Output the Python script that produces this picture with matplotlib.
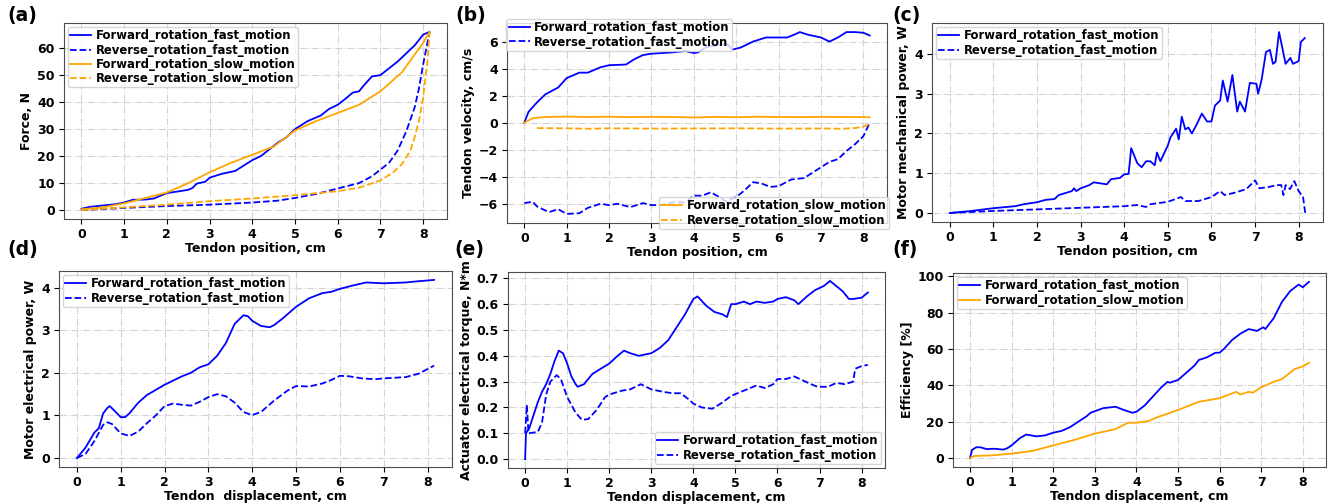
import numpy as np
import matplotlib
matplotlib.use("Agg")
import matplotlib.pyplot as plt

# ---------------- data ----------------
# (a) force vs tendon position
a_ff_x = [0, 0.2, 0.5, 0.8, 1.0, 1.2, 1.5, 1.7, 1.8, 2.0, 2.3, 2.5, 2.6, 2.7, 2.9, 3.0, 3.3, 3.6, 3.8, 4.0,
          4.2, 4.4, 4.6, 4.8, 5.0, 5.3, 5.6, 5.8, 6.0, 6.2, 6.35, 6.5, 6.6, 6.8, 7.0, 7.2, 7.4, 7.6, 7.8, 8.0, 8.15]
a_ff_y = [0.5, 1.2, 1.7, 2.2, 2.8, 3.8, 3.9, 4.3, 5.0, 6.3, 7.0, 7.5, 8.2, 9.8, 10.5, 12.0, 13.5, 14.5, 16.5, 18.5,
          20.0, 22.5, 25.0, 27.0, 30.0, 33.0, 35.0, 37.5, 39.0, 41.5, 43.5, 44.0, 46.0, 49.5, 50.0, 52.5, 55.0, 58.0,
          61.0, 65.0, 66.0]
a_rf_x = [0, 1, 2, 3, 4, 4.6, 5.0, 5.5, 6.0, 6.5, 6.8, 7.0, 7.2, 7.4, 7.6, 7.8, 7.9, 8.0, 8.1, 8.15]
a_rf_y = [0, 0.8, 1.5, 2.0, 2.8, 3.5, 4.5, 6.0, 8.0, 10.0, 12.5, 15.0, 17.5, 22.0, 29.0, 38.0, 45.0, 54.0, 62.0, 66.0]
a_fs_x = [0, 0.5, 1.0, 1.5, 2.0, 2.5, 3.0, 3.5, 4.0, 4.5, 5.0, 5.5, 6.0, 6.5, 7.0, 7.5, 8.0, 8.15]
a_fs_y = [0.3, 1.0, 2.5, 4.5, 6.5, 10.0, 14.0, 17.5, 20.5, 23.5, 29.5, 33.0, 36.0, 39.0, 44.0, 51.0, 62.0, 66.0]
a_rs_x = [0, 0.5, 1, 2, 3, 4, 5, 6, 6.5, 7.0, 7.3, 7.5, 7.7, 7.8, 7.9, 8.0, 8.1, 8.15]
a_rs_y = [0, 0.5, 1.0, 2.0, 3.3, 4.3, 5.5, 7.0, 8.3, 11.0, 14.0, 17.0, 22.0, 27.0, 33.0, 42.0, 55.0, 66.0]

# (b) tendon velocity
b_ff_x = [0, 0.1, 0.3, 0.5, 0.8, 1.0, 1.3, 1.5, 1.8, 2.0, 2.4, 2.6, 2.8, 3.0, 3.5, 3.8, 4.0, 4.1, 4.3, 4.5,
          4.7, 4.8, 4.9, 5.1, 5.4, 5.7, 6.0, 6.2, 6.4, 6.5, 6.7, 7.0, 7.2, 7.4, 7.6, 7.8, 8.0, 8.15]
b_ff_y = [0, 0.8, 1.5, 2.1, 2.6, 3.3, 3.7, 3.7, 4.1, 4.25, 4.3, 4.7, 5.0, 5.1, 5.2, 5.3, 5.15, 5.2, 5.6, 5.7,
          5.8, 5.8, 5.4, 5.55, 6.0, 6.3, 6.3, 6.3, 6.55, 6.7, 6.5, 6.3, 6.0, 6.3, 6.7, 6.7, 6.65, 6.45]
b_rf_x = [0, 0.2, 0.3, 0.5, 0.6, 0.8, 1.0, 1.3, 1.5, 1.8, 2.0, 2.2, 2.5, 2.8, 3.0, 3.2, 3.5, 3.8, 4.0, 4.2,
          4.4, 4.6, 4.75, 5.0, 5.2, 5.4, 5.6, 5.8, 6.0, 6.3, 6.6, 6.8, 7.0, 7.2, 7.4, 7.6, 7.8, 8.0, 8.15]
b_rf_y = [-5.95, -5.85, -6.2, -6.5, -6.6, -6.4, -6.75, -6.7, -6.3, -6.0, -6.1, -6.0, -6.25, -5.95, -6.1, -6.1,
          -5.9, -5.9, -5.4, -5.4, -5.15, -5.5, -5.8, -5.5, -5.0, -4.4, -4.5, -4.75, -4.7, -4.2, -4.1, -3.7, -3.3,
          -2.9, -2.7, -2.1, -1.6, -1.0, 0.0]
b_fs_x = [0, 0.2, 0.5, 1.0, 1.5, 2.0, 2.5, 3.0, 3.5, 4.0, 4.5, 5.0, 5.5, 6.0, 6.5, 7.0, 7.5, 8.0, 8.15]
b_fs_y = [0, 0.33, 0.42, 0.45, 0.42, 0.44, 0.41, 0.43, 0.42, 0.38, 0.43, 0.40, 0.44, 0.42, 0.41, 0.43, 0.42, 0.41, 0.40]
b_rs_x = [0.3, 1.0, 1.5, 2.0, 3.0, 4.0, 5.0, 6.0, 7.0, 7.5, 7.8, 8.0, 8.15]
b_rs_y = [-0.4, -0.42, -0.45, -0.42, -0.44, -0.43, -0.42, -0.44, -0.43, -0.45, -0.4, -0.3, -0.1]

# (c) motor mechanical power
c_ff_x = [0, 0.5, 1.0, 1.5, 1.7, 2.0, 2.2, 2.4, 2.5, 2.8, 2.85, 2.9, 3.0, 3.2, 3.3, 3.6, 3.7, 3.9, 4.0, 4.1,
          4.16, 4.3, 4.4, 4.5, 4.6, 4.7, 4.75, 4.83, 5.0, 5.06, 5.19, 5.25, 5.32, 5.4, 5.47, 5.55, 5.65, 5.78,
          5.9, 6.0, 6.08, 6.2, 6.26, 6.37, 6.48, 6.59, 6.65, 6.77, 6.88, 7.03, 7.07, 7.15, 7.25, 7.34, 7.41,
          7.47, 7.55, 7.7, 7.81, 7.87, 8.0, 8.05, 8.14]
c_ff_y = [0, 0.05, 0.12, 0.17, 0.22, 0.27, 0.33, 0.35, 0.45, 0.55, 0.62, 0.55, 0.62, 0.7, 0.77, 0.72, 0.85, 0.88,
          0.97, 0.98, 1.63, 1.25, 1.15, 1.3, 1.3, 1.2, 1.52, 1.3, 1.7, 1.9, 2.12, 1.85, 2.42, 2.1, 2.15, 2.0, 2.2,
          2.5, 2.3, 2.3, 2.7, 2.83, 3.33, 2.8, 3.47, 2.55, 2.8, 2.55, 3.27, 3.25, 3.0, 3.35, 4.05, 4.1, 3.75, 3.8,
          4.55, 3.75, 3.9, 3.75, 3.82, 4.3, 4.4]
c_rf_x = [0, 1, 2, 3, 4, 4.3, 4.5, 4.6, 4.8, 5.0, 5.3, 5.4, 5.7, 6.0, 6.2, 6.3, 6.5, 6.8, 7.0, 7.1, 7.3, 7.5,
          7.6, 7.65, 7.7, 7.8, 7.9, 8.0, 8.1, 8.15]
c_rf_y = [0, 0.05, 0.09, 0.13, 0.17, 0.2, 0.15, 0.22, 0.25, 0.28, 0.4, 0.3, 0.3, 0.4, 0.55, 0.45, 0.5, 0.6, 0.82,
          0.62, 0.65, 0.7, 0.7, 0.45, 0.7, 0.6, 0.8, 0.55, 0.4, 0.0]

# (d) motor electrical power
d_ff_x = [0, 0.2, 0.4, 0.5, 0.6, 0.7, 0.75, 0.85, 1.0, 1.1, 1.2, 1.4, 1.6, 1.8, 2.0, 2.2, 2.4, 2.6, 2.8, 3.0,
          3.2, 3.4, 3.6, 3.8, 3.9, 4.0, 4.2, 4.4, 4.5, 4.7, 5.0, 5.3, 5.6, 5.8, 6.0, 6.3, 6.6, 7.0, 7.5, 7.8, 8.15]
d_ff_y = [0, 0.25, 0.6, 0.7, 1.05, 1.18, 1.22, 1.12, 0.96, 0.96, 1.05, 1.3, 1.48, 1.6, 1.72, 1.82, 1.92, 2.0,
          2.13, 2.2, 2.4, 2.7, 3.15, 3.35, 3.33, 3.22, 3.1, 3.07, 3.12, 3.28, 3.55, 3.75, 3.87, 3.9, 3.97, 4.05,
          4.12, 4.1, 4.12, 4.15, 4.18]
d_rf_x = [0, 0.2, 0.4, 0.6, 0.7, 0.8, 1.0, 1.2, 1.4, 1.6, 1.8, 2.0, 2.2, 2.4, 2.6, 2.8, 3.0, 3.2, 3.4, 3.6, 3.8,
          4.0, 4.2, 4.5, 4.8, 5.0, 5.3, 5.6, 5.8, 6.0, 6.2, 6.5, 6.8, 7.0, 7.5, 7.8, 8.15]
d_rf_y = [0, 0.1, 0.4, 0.78, 0.84, 0.8, 0.58, 0.52, 0.62, 0.82, 1.0, 1.22, 1.28, 1.25, 1.23, 1.32, 1.43, 1.5,
          1.45, 1.3, 1.08, 1.01, 1.08, 1.35, 1.58, 1.69, 1.68, 1.75, 1.83, 1.93, 1.92, 1.87, 1.85, 1.87, 1.9,
          1.98, 2.17]

# (e) actuator electrical torque
e_ff_x = [0, 0.02, 0.1, 0.2, 0.3, 0.4, 0.5, 0.6, 0.7, 0.8, 0.9, 1.0, 1.1, 1.2, 1.25, 1.4, 1.6, 1.8, 2.0, 2.2,
          2.35, 2.5, 2.7, 3.0, 3.2, 3.4, 3.6, 3.8, 4.0, 4.1, 4.3, 4.5, 4.7, 4.8, 4.9, 5.0, 5.2, 5.35, 5.5, 5.7,
          5.9, 6.0, 6.2, 6.4, 6.5, 6.7, 6.9, 7.1, 7.25, 7.4, 7.55, 7.7, 7.8, 8.0, 8.15]
e_ff_y = [0.0, 0.1, 0.12, 0.17, 0.22, 0.26, 0.29, 0.33, 0.38, 0.42, 0.41, 0.37, 0.32, 0.29, 0.28, 0.29, 0.33,
          0.35, 0.37, 0.40, 0.42, 0.41, 0.40, 0.41, 0.43, 0.46, 0.51, 0.56, 0.62, 0.63, 0.595, 0.57, 0.56, 0.55,
          0.60, 0.60, 0.61, 0.60, 0.61, 0.605, 0.61, 0.62, 0.627, 0.615, 0.60, 0.63, 0.655, 0.67, 0.69, 0.67,
          0.65, 0.62, 0.62, 0.625, 0.645]
e_rf_x = [0, 0.04, 0.08, 0.3, 0.4, 0.5, 0.6, 0.75, 0.85, 1.0, 1.2, 1.35, 1.5, 1.7, 1.9, 2.0, 2.3, 2.5, 2.75,
          3.0, 3.3, 3.5, 3.7, 3.9, 4.0, 4.2, 4.45, 4.7, 4.9, 5.2, 5.5, 5.7, 5.9, 6.0, 6.2, 6.4, 6.6, 6.8, 6.95,
          7.2, 7.4, 7.6, 7.8, 7.85, 8.0, 8.15]
e_rf_y = [0.1, 0.21, 0.1, 0.105, 0.14, 0.25, 0.3, 0.325, 0.31, 0.24, 0.18, 0.152, 0.155, 0.19, 0.24, 0.25,
          0.265, 0.27, 0.29, 0.27, 0.26, 0.255, 0.255, 0.23, 0.215, 0.2, 0.195, 0.22, 0.245, 0.265, 0.285,
          0.275, 0.29, 0.31, 0.31, 0.32, 0.305, 0.29, 0.28, 0.28, 0.295, 0.29, 0.30, 0.35, 0.36, 0.365]

# (f) efficiency
f_ff_x = [0, 0.05, 0.15, 0.25, 0.4, 0.6, 0.8, 0.9, 1.0, 1.2, 1.35, 1.6, 1.8, 2.0, 2.2, 2.4, 2.6, 2.8, 2.9, 3.2,
          3.5, 3.7, 3.9, 4.0, 4.2, 4.4, 4.6, 4.75, 4.8, 5.0, 5.2, 5.4, 5.5, 5.7, 5.9, 6.0, 6.1, 6.3, 6.5, 6.7,
          6.9, 7.05, 7.1, 7.3, 7.5, 7.7, 7.9, 8.0, 8.15]
f_ff_y = [0, 4.5, 6, 6, 5, 5.2, 4.7, 5.5, 7, 11, 13, 12, 12.5, 14, 15, 17, 20, 23, 25, 27.5, 28.3, 26.5, 25,
          25.5, 29, 34, 39, 42, 41.5, 43, 47, 51, 54, 55.5, 58, 58, 60, 65, 68.5, 71, 70, 72, 71, 77, 86, 92,
          95.5, 94, 97]
f_fs_x = [0, 0.1, 0.5, 1.0, 1.5, 2.0, 2.5, 3.0, 3.5, 3.8, 4.0, 4.3, 4.5, 5.0, 5.5, 6.0, 6.4, 6.5, 6.7, 6.8,
          7.0, 7.3, 7.5, 7.8, 8.0, 8.15]
f_fs_y = [0, 1.2, 1.5, 2.5, 4, 7, 10, 13.5, 16, 19.5, 19.5, 20.5, 22.5, 26.5, 31, 33, 36.5, 35, 36.5, 36,
          39, 42, 43.5, 49, 50.5, 52.5]

lbl_ff = "Forward_rotation_fast_motion"
lbl_rf = "Reverse_rotation_fast_motion"
lbl_fs = "Forward_rotation_slow_motion"
lbl_rs = "Reverse_rotation_slow_motion"

# ---------------- figure ----------------
W, H = 1331, 504
fig = plt.figure(figsize=(W / 100, H / 100), dpi=100)


def box(l, r, t, b):
    return [l / W, 1 - b / H, (r - l) / W, (b - t) / H]


def style(ax, xlabel, ylabel, yticks):
    ax.grid(True, linestyle='-.', color='lightgray', linewidth=0.8)
    ax.set_xlabel(xlabel, fontsize=9, fontweight='bold', labelpad=0.5)
    ax.set_ylabel(ylabel, fontsize=9, fontweight='bold', labelpad=3)
    ax.set_xticks(range(0, 9))
    ax.set_yticks(yticks)
    for s in ax.spines.values():
        s.set_color('0.3')
    ax.tick_params(labelsize=9, pad=3)
    for t in ax.get_xticklabels() + ax.get_yticklabels():
        t.set_fontweight('bold')


lw = 1.3
leg_kw = dict(prop={'size': 8.4, 'weight': 'bold'}, handlelength=1.8, handletextpad=0.4,
              borderpad=0.2, labelspacing=0.1)

# (a)
ax = fig.add_axes(box(64, 447, 23, 219))
ax.plot(a_ff_x, a_ff_y, '-', color='blue', lw=lw, label=lbl_ff)
ax.plot(a_rf_x, a_rf_y, '--', color='blue', lw=lw, label=lbl_rf)
ax.plot(a_fs_x, a_fs_y, '-', color='orange', lw=lw, label=lbl_fs)
ax.plot(a_rs_x, a_rs_y, '--', color='orange', lw=lw, label=lbl_rs)
style(ax, 'Tendon position, cm', 'Force, N', range(0, 61, 10))
ax.legend(loc='upper left', borderaxespad=0.35, **leg_kw)

# (b)
ax = fig.add_axes(box(507, 887, 23, 223))
l1, = ax.plot(b_ff_x, b_ff_y, '-', color='blue', lw=lw, label=lbl_ff)
l2, = ax.plot(b_rf_x, b_rf_y, '--', color='blue', lw=lw, label=lbl_rf)
l3, = ax.plot(b_fs_x, b_fs_y, '-', color='orange', lw=lw, label=lbl_fs)
l4, = ax.plot(b_rs_x, b_rs_y, '--', color='orange', lw=lw, label=lbl_rs)
style(ax, 'Tendon position, cm', 'Tendon velocity, cm/s', range(-6, 7, 2))
leg1 = ax.legend(handles=[l1, l2], loc='upper left', bbox_to_anchor=(-0.002, 1.02),
                 borderaxespad=0, **leg_kw)
ax.add_artist(leg1)
ax.legend(handles=[l3, l4], loc='lower right', bbox_to_anchor=(1.005, -0.03),
          borderaxespad=0, **leg_kw)

# (c)
ax = fig.add_axes(box(932, 1323, 23, 222))
ax.plot(c_ff_x, c_ff_y, '-', color='blue', lw=lw, label=lbl_ff)
ax.plot(c_rf_x, c_rf_y, '--', color='blue', lw=lw, label=lbl_rf)
style(ax, 'Tendon position, cm', 'Motor mechanical power, W', range(0, 5))
ax.legend(loc='upper left', borderaxespad=0.35, **leg_kw)

# (d)
ax = fig.add_axes(box(59, 452, 271, 467))
ax.plot(d_ff_x, d_ff_y, '-', color='blue', lw=lw, label=lbl_ff)
ax.plot(d_rf_x, d_rf_y, '--', color='blue', lw=lw, label=lbl_rf)
style(ax, 'Tendon  displacement, cm', 'Motor electrical power, W', range(0, 5))
ax.legend(loc='upper left', borderaxespad=0.35, **leg_kw)

# (e)
ax = fig.add_axes(box(508, 885, 272, 468))
ax.plot(e_ff_x, e_ff_y, '-', color='blue', lw=lw, label=lbl_ff)
ax.plot(e_rf_x, e_rf_y, '--', color='blue', lw=lw, label=lbl_rf)
style(ax, 'Tendon displacement, cm', 'Actuator electrical torque, N*m', np.arange(0, 0.71, 0.1))
ax.legend(loc='lower right', borderaxespad=0.35, **leg_kw)

# (f)
ax = fig.add_axes(box(953, 1326, 273, 467))
ax.plot(f_ff_x, f_ff_y, '-', color='blue', lw=lw, label=lbl_ff)
ax.plot(f_fs_x, f_fs_y, '-', color='orange', lw=lw, label=lbl_fs)
style(ax, 'Tendon displacement, cm', 'Efficiency [%]', range(0, 101, 20))
ax.legend(loc='upper left', borderaxespad=0.35, **leg_kw)

# panel letters
for txt, x, y in [('(a)', 7, 16), ('(b)', 455, 16), ('(c)', 892, 16),
                  ('(d)', 7, 250), ('(e)', 454, 250), ('(f)', 892, 250)]:
    fig.text(x / W, 1 - y / H, txt, fontsize=13.5, fontweight='bold', va='center', ha='left')

fig.savefig('out.png', dpi=100)
